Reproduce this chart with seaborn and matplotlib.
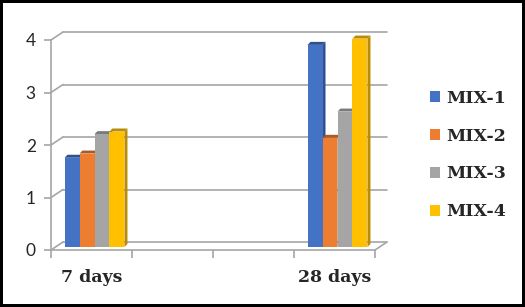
import matplotlib
matplotlib.use("Agg")
import matplotlib.pyplot as plt
import matplotlib.transforms as mtransforms
from matplotlib.patches import Polygon
import seaborn as sns
import pandas as pd

# ---- data ----
categories = ["7 days", "", " ", "28 days"]
data_days = ["7 days", "28 days"]
series = ["MIX-1", "MIX-2", "MIX-3", "MIX-4"]
mix1 = [1.70, 3.85]
mix2 = [1.78, 2.08]
mix3 = [2.15, 2.58]
mix4 = [2.20, 3.97]
yticks = [0, 1, 2, 3, 4]

colors = ["#4472C4", "#ED7D31", "#A5A5A5", "#FFC000"]
dark = ["#2F528F", "#AE5A21", "#7B7B7B", "#BC8C00"]

rows = []
for name, vals in zip(series, [mix1, mix2, mix3, mix4]):
    for d, v in zip(data_days, vals):
        rows.append({"day": d, "mix": name, "value": v})
df = pd.DataFrame(rows)

sns.set_style("white")
fig = plt.figure(figsize=(5.25, 3.07), dpi=100)
fig.patch.set_edgecolor("black")
fig.patch.set_linewidth(4)

W, H = 525, 307
ax_l, ax_r, ax_b, ax_t = 51, 375, 250, 40
ax = fig.add_axes([ax_l / W, (H - ax_b) / H, (ax_r - ax_l) / W, (ax_b - ax_t) / H])

sns.barplot(data=df, x="day", y="value", hue="mix", order=categories,
            hue_order=series, palette=colors, width=0.74, saturation=1,
            linewidth=0, ax=ax, zorder=1)

handles, labels = ax.get_legend_handles_labels()
if ax.get_legend() is not None:
    ax.get_legend().remove()

ax.set_xlim(-0.5, len(categories) - 0.5)
ax.set_ylim(0, 4)
ax.set_xlabel("")
ax.set_ylabel("")

sx = (len(categories)) / (ax_r - ax_l)   # data units per px (x)
sy = 4 / (ax_b - ax_t)                    # data units per px (y)

grid_c = "#A6A6A6"
DX, DY = 12 * sx, 8 * sy
x0, x1 = -0.5, len(categories) - 0.5
for v in yticks:
    ax.plot([x0 + DX, x1 + DX], [v + DY, v + DY], color=grid_c, lw=1.2,
            clip_on=False, zorder=0.2)
    ax.plot([x0, x0 + DX], [v, v + DY], color=grid_c, lw=1.2,
            clip_on=False, zorder=0.2)
ax.plot([x1, x1 + DX], [0, DY], color=grid_c, lw=1.2, clip_on=False, zorder=0.2)

# 3D-like bars
mid = mtransforms.ScaledTranslation(3 / 100, 3 / 100, fig.dpi_scale_trans)
trans_mid = ax.transData + mid
dx, dy = 3 * sx, 3 * sy
for ci, cont in enumerate(ax.containers):
    for bar in cont:
        h = bar.get_height()
        if not h or h != h:
            continue
        bx0 = bar.get_x()
        bx1 = bx0 + bar.get_width()
        bar.set_transform(trans_mid)
        bar.set_clip_on(False)
        bar.set_linewidth(0)
        side = Polygon([(bx1, 0), (bx1 + dx, dy), (bx1 + dx, h + dy), (bx1, h)],
                       closed=True, facecolor=dark[ci], edgecolor="none",
                       transform=trans_mid, zorder=0.6, clip_on=False)
        top = Polygon([(bx0, h), (bx1, h), (bx1 + dx, h + dy), (bx0 + dx, h + dy)],
                      closed=True, facecolor=dark[ci], edgecolor="none",
                      transform=trans_mid, zorder=0.6, clip_on=False)
        ax.add_patch(side)
        ax.add_patch(top)

for s in ["top", "right"]:
    ax.spines[s].set_visible(False)
for s in ["left", "bottom"]:
    ax.spines[s].set_color(grid_c)
    ax.spines[s].set_linewidth(1.2)

ax.set_yticks(yticks)
ax.set_yticklabels([str(t) for t in yticks], family="Lato", fontsize=12.5)
ax.tick_params(axis="y", length=5, width=1.2, color=grid_c, pad=6, left=True)

ax.set_xticks(range(len(categories)))
ax.set_xticklabels(categories, family="DejaVu Serif", fontweight="bold", fontsize=12.5)
ax.set_xticks([i - 0.5 for i in range(len(categories) + 1)], minor=True)
ax.tick_params(axis="x", which="major", length=0, pad=14)
ax.tick_params(axis="x", which="minor", length=6, width=1.2, color=grid_c, bottom=True)

leg = ax.legend(handles, labels, loc="center left",
                bbox_to_anchor=(414 / W, 1 - 155 / H), bbox_transform=fig.transFigure,
                frameon=False, handlelength=0.6, handleheight=0.6,
                handletextpad=0.35, labelspacing=1.2,
                prop={"family": "DejaVu Serif", "weight": "bold", "size": 12.5})

fig.savefig("out.png", dpi=100)
